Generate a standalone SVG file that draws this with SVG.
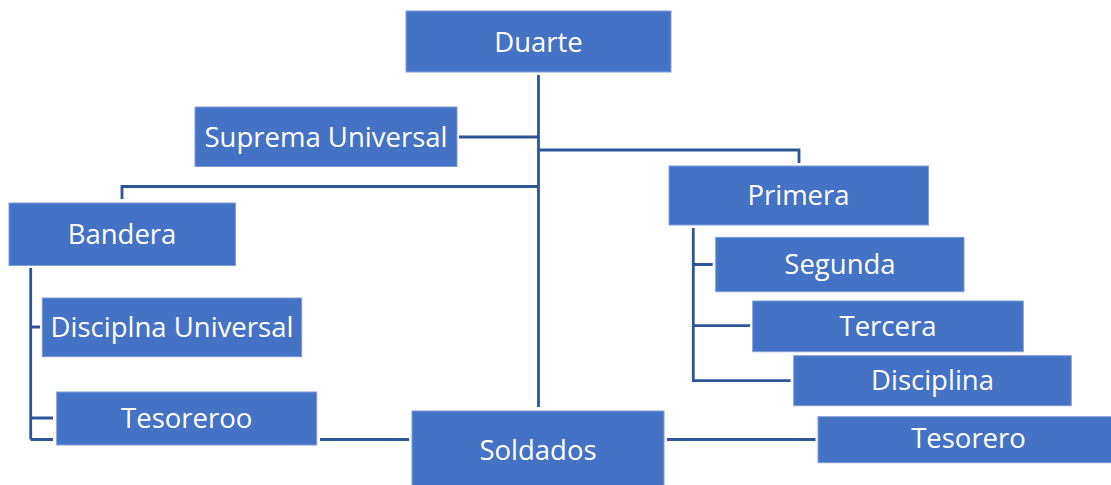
<svg xmlns="http://www.w3.org/2000/svg" width="1111" height="485" viewBox="0 0 1111 485">
<style>
.box{fill:#4472C4;stroke:#7F9DD6;stroke-width:1}
.lbl{fill:#FFFFFF;font-family:"Open Sans","Liberation Sans",sans-serif;font-size:27.5px;text-anchor:middle}
.ln{fill:none;stroke:#2F5597;stroke-width:2.8}
</style>
<rect width="1111" height="485" fill="#FFFFFF"/>
<g id="connectors">
<path class="ln" d="M538.5,75 V407"/>
<path class="ln" d="M459,137 H538.5"/>
<path class="ln" d="M538.5,150 H799 V163"/>
<path class="ln" d="M538.5,186.5 H122 V199"/>
<path class="ln" d="M40,327 H30.7 V268 M30.7,418 H53 M30.7,439.5 H53 M30.7,327 V439.5"/>
<path class="ln" d="M320,439.5 H409"/>
<path class="ln" d="M667,439.5 H815.5"/>
<path class="ln" d="M693.3,228 V380.7 H790.7 M693.3,264.5 H712.7 M693.3,325.7 H750"/>
</g>
<g id="duarte"><rect class="box" x="406" y="11" width="265" height="61"/><text class="lbl" x="538.5" y="52">Duarte</text></g>
<g id="suprema"><rect class="box" x="195" y="107" width="262" height="59.5"/><text class="lbl" x="326" y="146.5">Suprema Universal</text></g>
<g id="primera"><rect class="box" x="669" y="166" width="259.5" height="59"/><text class="lbl" x="798.5" y="205">Primera</text></g>
<g id="bandera"><rect class="box" x="9" y="203" width="226.5" height="62.5"/><text class="lbl" x="122" y="243.5">Bandera</text></g>
<g id="segunda"><rect class="box" x="715.7" y="237.3" width="248.3" height="54.4"/><text class="lbl" x="840" y="273.5">Segunda</text></g>
<g id="disciplna-universal"><rect class="box" x="42.3" y="298" width="259.4" height="58.7"/><text class="lbl" x="172" y="336.7">Disciplna Universal</text></g>
<g id="tercera"><rect class="box" x="752.7" y="301" width="270.6" height="50.7"/><text class="lbl" x="888" y="335.5">Tercera</text></g>
<g id="disciplina"><rect class="box" x="793.7" y="355.7" width="277.6" height="50"/><text class="lbl" x="932.5" y="390">Disciplina</text></g>
<g id="tesoreroo"><rect class="box" x="56.7" y="392" width="260" height="53"/><text class="lbl" x="186.7" y="428.3">Tesoreroo</text></g>
<g id="soldados"><rect class="box" x="412" y="411" width="252" height="76"/><text class="lbl" x="538" y="460">Soldados</text></g>
<g id="tesorero"><rect class="box" x="818" y="416.7" width="301" height="46"/><text class="lbl" x="968.5" y="448.3">Tesorero</text></g>
</svg>
